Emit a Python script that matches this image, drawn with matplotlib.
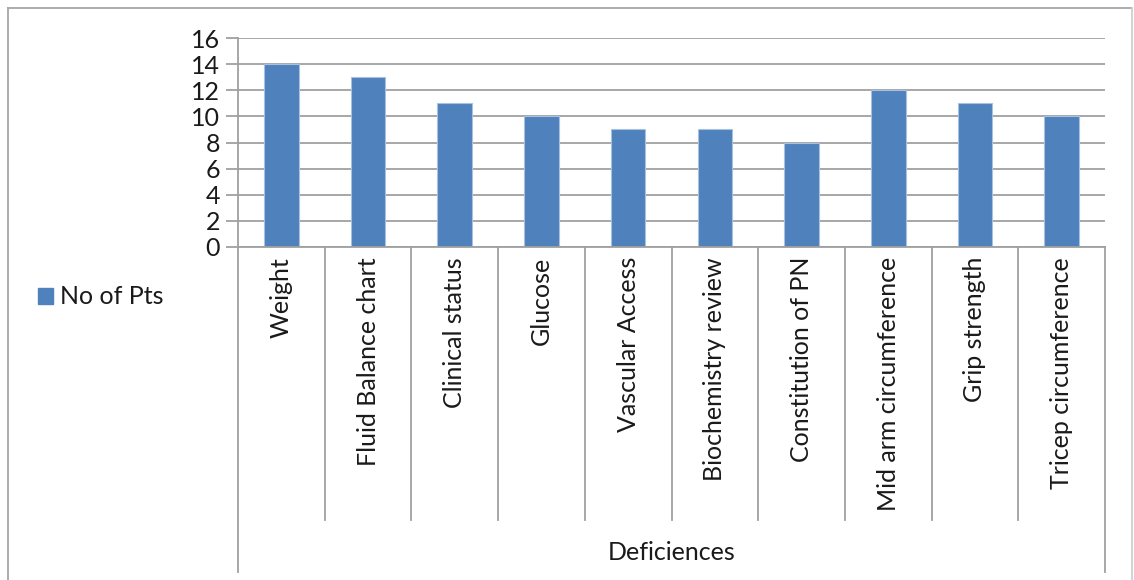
import matplotlib
matplotlib.use("Agg")
import matplotlib.pyplot as plt
from matplotlib.lines import Line2D
from matplotlib.patches import Patch

categories = ["Weight", "Fluid Balance chart", "Clinical status", "Glucose",
              "Vascular Access", "Biochemistry review", "Constitution of PN",
              "Mid arm circumference", "Grip strength", "Tricep circumference"]
values = [14, 13, 11, 10, 9, 9, 8, 12, 11, 10]
yticks = [0, 2, 4, 6, 8, 10, 12, 14, 16]
series_name = "No of Pts"
axis_title = "Deficiences"

plt.rcParams['font.family'] = ['Lato', 'DejaVu Sans']
FS = 18
TXT = '#1a1a1a'
GRID = '#a0a0a0'
BAR = '#4f81bd'

W, H = 1134, 580
fig = plt.figure(figsize=(W / 100, H / 100), dpi=100)

x0, x1 = 238, 1105
y_top, y_bot = 38, 247
ax = fig.add_axes([x0 / W, 1 - y_bot / H, (x1 - x0) / W, (y_bot - y_top) / H])

n = len(categories)
xs = list(range(n))
ax.bar(xs, values, width=0.40, color=BAR, edgecolor='#a9c1e0', linewidth=0.8, zorder=3)
ax.set_xlim(-0.5, n - 0.5)
ax.set_ylim(0, 16)
ax.set_yticks(yticks)
ax.set_yticklabels([str(t) for t in yticks], fontsize=FS, color=TXT)
ax.tick_params(axis='y', length=9, width=1.3, color=GRID, pad=4, direction='out')
ax.set_xticks([])
for s in ['top', 'right', 'bottom']:
    ax.spines[s].set_visible(False)
ax.spines['left'].set_color(GRID)
ax.spines['left'].set_linewidth(1.3)
ax.yaxis.grid(True, color=GRID, linewidth=1.3, zorder=0)
ax.set_axisbelow(True)

# baseline
ax.axhline(0, color=GRID, linewidth=1.3, zorder=4, clip_on=False)

tr = ax.get_xaxis_transform()
h_px = y_bot - y_top
inner = (y_bot - 520) / h_px
outer = (y_bot - 572) / h_px
# category separators
for k in range(n + 1):
    xb = k - 0.5
    ybottom = outer if k in (0, n) else inner
    ax.add_line(Line2D([xb, xb], [0, ybottom], transform=tr, color=GRID,
                       linewidth=1.3, clip_on=False))

# category labels
ylab = (y_bot - 257) / h_px
for xi, lab in zip(xs, categories):
    ax.text(xi, ylab, lab, transform=tr, rotation=90, ha='center', va='top',
            fontsize=FS, color=TXT)

# axis title
ax.text((n - 1) / 2, (y_bot - 553) / h_px, axis_title, transform=tr,
        ha='center', va='center', fontsize=FS, color=TXT)

# legend
fig.legend(handles=[Patch(facecolor=BAR, edgecolor=BAR, label=series_name)],
           loc='center left', bbox_to_anchor=(15 / W, 1 - 297 / H), frameon=False,
           fontsize=FS, handlelength=0.6, handleheight=0.6, handletextpad=0.3,
           labelcolor=TXT)

# outer chart border
bc = '#a6a6a6'
fig.add_artist(Line2D([8 / W, 1132 / W], [1 - 8 / H, 1 - 8 / H], color=bc, linewidth=1.3))
fig.add_artist(Line2D([8 / W, 8 / W], [1 - 8 / H, 0], color=bc, linewidth=1.3))
fig.add_artist(Line2D([1132 / W, 1132 / W], [1 - 8 / H, 0], color='#d0d0d0', linewidth=1.3))

fig.savefig("out.png", dpi=100, facecolor='white')
